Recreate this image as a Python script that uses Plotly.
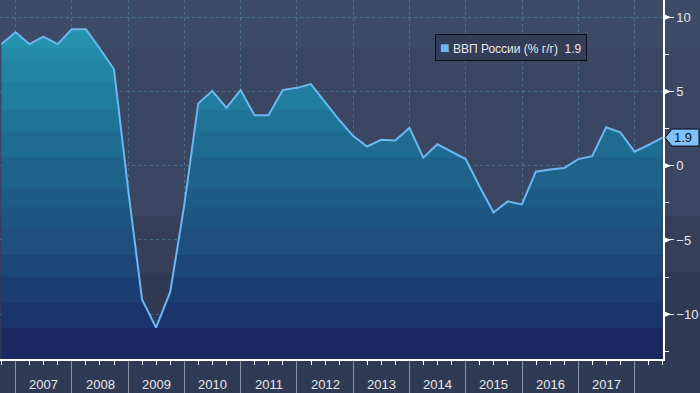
import plotly.graph_objects as go

# ---------------- data ----------------
dates = [
    "2006-09-30", "2006-12-31",
    "2007-03-31", "2007-06-30", "2007-09-30", "2007-12-31",
    "2008-03-31", "2008-06-30", "2008-09-30", "2008-12-31",
    "2009-03-31", "2009-06-30", "2009-09-30", "2009-12-31",
    "2010-03-31", "2010-06-30", "2010-09-30", "2010-12-31",
    "2011-03-31", "2011-06-30", "2011-09-30", "2011-12-31",
    "2012-03-31", "2012-06-30", "2012-09-30", "2012-12-31",
    "2013-03-31", "2013-06-30", "2013-09-30", "2013-12-31",
    "2014-03-31", "2014-06-30", "2014-09-30", "2014-12-31",
    "2015-03-31", "2015-06-30", "2015-09-30", "2015-12-31",
    "2016-03-31", "2016-06-30", "2016-09-30", "2016-12-31",
    "2017-03-31", "2017-06-30", "2017-09-30", "2017-12-31",
    "2018-03-31", "2018-06-30",
]
gdp_yoy = [
    8.2, 9.0,
    8.2, 8.7, 8.2, 9.2,
    9.2, 7.9, 6.5, -1.6,
    -9.0, -10.9, -8.5, -2.6,
    4.2, 5.05, 3.9, 5.1,
    3.4, 3.4, 5.1, 5.25,
    5.5, 4.3, 3.1, 2.0,
    1.3, 1.75, 1.7, 2.55,
    0.55, 1.45, 0.95, 0.45,
    -1.4, -3.15, -2.4, -2.6,
    -0.4, -0.25, -0.15, 0.45,
    0.65, 2.6, 2.25, 0.95,
    1.4, 1.9,
]
series_name = "ВВП России (% г/г)"
year_labels = ["2007", "2008", "2009", "2010", "2011", "2012",
               "2013", "2014", "2015", "2016", "2017"]
year_starts = [f"{y}-01-01" for y in range(2007, 2019)]

# ---------------- style ----------------
Y_MIN, Y_MAX = -13.02, 11.17
X_RANGE = ["2006-09-21", "2018-07-04"]
LINE_COLOR = "#6cb6f2"
TEXT_COLOR = "#e8e8ec"
FONT = "Liberation Sans"

# stepped vertical gradient of the area (value boundaries, colours bottom->top)
fill_bounds = [-10.93, -9.25, -7.5, -6.01, -4.13, -2.78, -1.5, 0.59, 2.27, 3.75, 5.64, 7.12, 7.93]
fill_cols = ["#1a2862", "#1b346c", "#1b3e72", "#1c4678", "#1e4f7e", "#1d5682", "#1d5c86",
             "#1e638a", "#1e6c90", "#1f7495", "#207d9d", "#2285a3", "#238ba8", "#2592ad"]

def stepped_scale(bounds, cols, lo, hi):
    edges = [0.0] + [(b - lo) / (hi - lo) for b in bounds] + [1.0]
    sc = []
    for i, c in enumerate(cols):
        sc.append([edges[i], c])
        sc.append([edges[i + 1], c])
    return sc

fill_scale = stepped_scale(fill_bounds, fill_cols, Y_MIN, Y_MAX)

fig = go.Figure()

# base for the fill (bottom of the axis)
fig.add_trace(go.Scatter(
    x=dates, y=[Y_MIN] * len(dates), mode="lines",
    line=dict(width=0, color="rgba(0,0,0,0)"), hoverinfo="skip", showlegend=False,
))
fig.add_trace(go.Scatter(
    x=dates, y=gdp_yoy, mode="lines", name=series_name,
    line=dict(color=LINE_COLOR, width=2),
    fill="tonexty",
    fillgradient=dict(type="vertical", colorscale=fill_scale, start=Y_MIN, stop=Y_MAX),
    showlegend=False,
))

shapes = []
# background bands (plot + right margin)
bg_bands = [  # (from value, to value, colour)
    (7.93, Y_MAX, "#3e4b67"),
    (-3.4, 7.93, "#3a4662"),
    (-7.2, -3.4, "#353f5a"),
    (Y_MIN, -7.2, "#303a55"),
]
for lo, hi, c in bg_bands:
    shapes.append(dict(type="rect", xref="paper", yref="y", x0=0, x1=1.06,
                       y0=lo, y1=hi, fillcolor=c, line=dict(width=0), layer="below"))

# small white arrow heads on the major y ticks
for v in range(-10, 11, 5):
    shapes.append(dict(
        type="path", xref="paper", yref="y", xsizemode="pixel", ysizemode="pixel",
        xanchor=1, yanchor=v, path="M 1,-3 L 1,3 L 8,0 Z",
        fillcolor="#ffffff", line=dict(width=0), layer="above",
    ))

# last value tag
last_val = gdp_yoy[-1]
shapes.append(dict(
    type="path", xref="paper", yref="y", xsizemode="pixel", ysizemode="pixel",
    xanchor=1, yanchor=last_val,
    path="M 2,0 L 9,8.5 L 36,8.5 L 36,-8.5 L 9,-8.5 Z",
    fillcolor="#7ec2f7", line=dict(color="#0b0d14", width=1), layer="above",
))

annotations = []
for lbl in year_labels:
    annotations.append(dict(
        x=f"{lbl}-07-02", y=0, xref="x", yref="paper", yanchor="middle", yshift=-25,
        text=lbl, showarrow=False, font=dict(family=FONT, size=13, color=TEXT_COLOR),
    ))
annotations.append(dict(
    x=1, xref="paper", xanchor="left", xshift=9, y=last_val, yref="y",
    text=f"{last_val:.1f}", showarrow=False,
    font=dict(family=FONT, size=13, color="#0d1018"),
))
annotations.append(dict(
    x=0.771, y=0.869, xref="paper", yref="paper", xanchor="center", yanchor="middle",
    text=f"<span style='color:{LINE_COLOR};font-size:16px'>■</span> {series_name}  {last_val:.1f}",
    showarrow=False, font=dict(family=FONT, size=12, color=TEXT_COLOR),
    bgcolor="#333d58", bordercolor="#0d0f16", borderwidth=1, borderpad=4,
))

fig.update_layout(
    width=700, height=393,
    margin=dict(l=0, r=37, t=0, b=34, autoexpand=False),
    paper_bgcolor="#2f3a55", plot_bgcolor="#3a4662",
    showlegend=False, shapes=shapes, annotations=annotations,
    font=dict(family=FONT, color=TEXT_COLOR),
)
fig.update_xaxes(
    type="date", range=X_RANGE, automargin=False,
    tickvals=year_starts, showticklabels=False,
    ticks="outside", ticklen=34, tickcolor="#8a93a6", tickwidth=1,
    showgrid=True, gridcolor="rgba(85,145,175,0.55)", griddash="dot", gridwidth=1,
    showline=True, linecolor="#ffffff", linewidth=1.5,
    minor=dict(ticks="outside", ticklen=4, tickcolor="#ffffff", dtick="M3",
               tick0="2007-01-01", showgrid=False),
    zeroline=False,
)
fig.update_yaxes(
    side="right", range=[Y_MIN, Y_MAX], dtick=5, tick0=0, automargin=False,
    ticks="outside", ticklen=9, tickwidth=1, tickcolor="#ffffff",
    tickfont=dict(family=FONT, size=13, color=TEXT_COLOR),
    showgrid=True, gridcolor="rgba(85,145,175,0.55)", griddash="dot", gridwidth=1,
    showline=True, linecolor="#ffffff", linewidth=1.5,
    minor=dict(ticks="outside", ticklen=4, tickcolor="#ffffff", dtick=2.5, tick0=0,
               showgrid=False),
    zeroline=False,
)

fig.write_html(
    "out.html",
    config={"displayModeBar": False},
    post_script="document.body.style.margin='0';document.body.style.overflow='hidden';",
)
